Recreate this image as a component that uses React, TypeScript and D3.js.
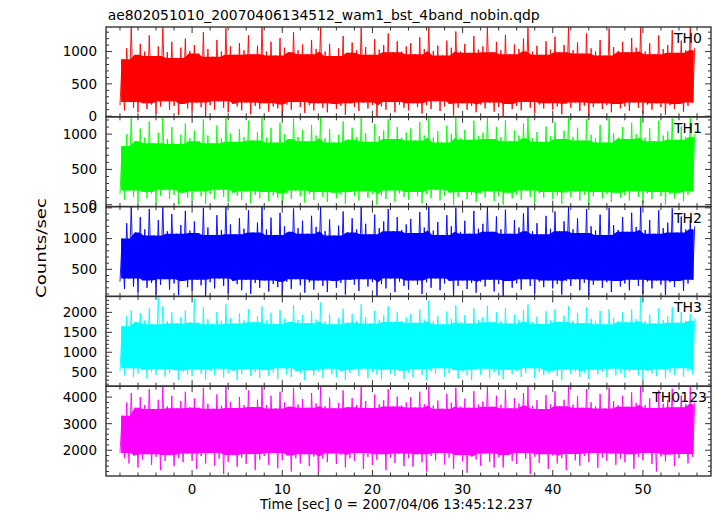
import React from 'react';
import * as d3 from 'd3';

const title = "ae802051010_20070406134512_wam1_bst_4band_nobin.qdp";
const xTitle = "Time [sec] 0 = 2007/04/06 13:45:12.237";
const yTitle = "Counts/sec";

const binStart = -8;
const binWidth = 0.5;

// TH0 : per half-second bin, highest and lowest rate (counts/sec)
const th0Hi = [
  880, 1050, 1380, 950, 1120, 1000, 1250, 930, 1080, 1370, 990, 1150, 900, 1060, 1200, 1010,
  1100, 970, 1300, 1040, 920, 1180, 1000, 1360, 1080, 950, 1130, 1020, 1250, 960, 1090, 1380,
  1000, 1150, 940, 1210, 1060, 990, 1300, 1020, 1110, 960, 1180, 1040, 1380, 1000, 1120, 930,
  1050, 1240, 980, 1140, 1020, 1370, 1070, 950, 1190, 1030, 1100, 1280, 990, 1160, 1000, 1080,
  1130, 960, 1220, 1040, 1380, 1010, 1090, 940, 1170, 1060, 1310, 1000, 1120, 980, 1240, 1030,
  1080, 1380, 990, 1150, 1020, 1260, 960, 1110, 1040, 1200, 1370, 1000, 1090, 950, 1160, 1030,
  1230, 990, 1100, 1380, 1020, 1140, 970, 1280, 1050, 1000, 1180, 940, 1360, 1070, 1010, 1150,
  990, 1210, 1060, 1380, 1000, 1130, 960, 1250, 1040, 1100, 1330, 980, 1170, 1020, 1380, 1060,
];
const th0Lo = [
  170, 90, 220, 130, 60, 200, 110, 180, 40, 150, 230, 100, 160, 20, 190, 120,
  80, 210, 140, 0, 170, 100, 230, 130, 60, 190, 150, 90, 210, 30, 160, 110,
  200, 70, 150, 120, 0, 180, 100, 220, 140, 50, 170, 90, 200, 130, 60, 190,
  110, 160, 20, 200, 140, 80, 210, 120, 170, 0, 150, 100, 220, 60, 180, 130,
  90, 200, 140, 40, 170, 110, 230, 80, 150, 190, 10, 130, 200, 100, 160, 60,
  180, 120, 210, 70, 140, 0, 190, 110, 160, 90, 220, 130, 50, 180, 120, 200,
  100, 150, 30, 190, 130, 210, 80, 160, 0, 140, 200, 110, 170, 60, 190, 120,
  150, 80, 210, 130, 40, 180, 100, 200, 140, 20, 170, 110, 190, 70, 160, 210,
];

// TH1
const th1Hi = [
  830, 1000, 1240, 900, 1080, 950, 1180, 870, 1020, 1230, 930, 1100, 860, 990, 1150, 940,
  1050, 900, 1210, 980, 870, 1120, 940, 1240, 1010, 890, 1070, 960, 1190, 910, 1030, 1240,
  950, 1090, 880, 1160, 1000, 930, 1220, 960, 1060, 900, 1130, 980, 1240, 940, 1070, 880,
  990, 1180, 920, 1090, 960, 1240, 1010, 890, 1140, 970, 1050, 1210, 930, 1100, 950, 1020,
  1080, 910, 1170, 980, 1240, 950, 1040, 880, 1120, 1000, 1230, 940, 1060, 920, 1190, 970,
  1020, 1240, 930, 1100, 960, 1200, 900, 1050, 980, 1150, 1240, 940, 1030, 890, 1110, 970,
  1170, 930, 1050, 1240, 960, 1090, 910, 1210, 990, 940, 1130, 880, 1240, 1010, 950, 1100,
  930, 1160, 1000, 1240, 950, 1080, 900, 1190, 980, 1040, 1220, 920, 1110, 960, 1240, 1000,
];
const th1Lo = [
  150, 70, 200, 110, 30, 180, 90, 160, 20, 130, 210, 80, 140, 0, 170, 100,
  60, 190, 120, 10, 150, 80, 210, 110, 40, 170, 130, 70, 190, 20, 140, 90,
  180, 50, 130, 100, 0, 160, 80, 200, 120, 30, 150, 70, 180, 110, 40, 170,
  90, 140, 10, 180, 120, 60, 190, 100, 150, 0, 130, 80, 200, 40, 160, 110,
  70, 180, 120, 20, 150, 90, 210, 60, 130, 170, 0, 110, 180, 80, 140, 40,
  160, 100, 190, 50, 120, 0, 170, 90, 140, 70, 200, 110, 30, 160, 100, 180,
  80, 130, 10, 170, 110, 190, 60, 140, 0, 120, 180, 90, 150, 40, 170, 100,
  130, 60, 190, 110, 20, 160, 80, 180, 120, 0, 150, 90, 170, 50, 140, 190,
];

// TH2
const th2Hi = [
  1000, 1250, 1520, 1100, 1350, 1150, 1480, 1050, 1300, 1510, 1120, 1400, 1080, 1220, 1450, 1130,
  1280, 1090, 1500, 1180, 1060, 1380, 1140, 1520, 1230, 1070, 1330, 1160, 1460, 1100, 1260, 1520,
  1150, 1340, 1060, 1420, 1200, 1110, 1490, 1170, 1290, 1080, 1370, 1190, 1520, 1120, 1310, 1050,
  1210, 1440, 1100, 1330, 1150, 1520, 1240, 1070, 1390, 1170, 1280, 1480, 1120, 1350, 1140, 1230,
  1320, 1090, 1430, 1180, 1520, 1130, 1270, 1060, 1380, 1200, 1500, 1110, 1290, 1080, 1450, 1160,
  1240, 1520, 1110, 1360, 1150, 1470, 1080, 1300, 1180, 1410, 1510, 1120, 1250, 1070, 1370, 1160,
  1440, 1120, 1280, 1520, 1150, 1330, 1090, 1480, 1200, 1130, 1390, 1060, 1500, 1220, 1140, 1350,
  1110, 1420, 1190, 1520, 1140, 1300, 1080, 1460, 1170, 1260, 1490, 1100, 1360, 1150, 1310, 1200,
];
const th2Lo = [
  300, 180, 350, 220, 120, 320, 200, 280, 90, 250, 340, 170, 270, 80, 310, 210,
  150, 330, 240, 70, 290, 190, 350, 230, 110, 310, 260, 160, 330, 100, 280, 200,
  320, 140, 260, 210, 60, 300, 180, 340, 240, 120, 290, 170, 320, 230, 130, 310,
  200, 280, 90, 330, 250, 150, 340, 220, 290, 70, 260, 190, 350, 130, 300, 230,
  170, 320, 250, 100, 290, 200, 350, 160, 270, 310, 60, 230, 320, 180, 280, 120,
  300, 220, 330, 140, 260, 60, 310, 200, 270, 170, 340, 230, 110, 300, 210, 320,
  190, 260, 90, 310, 230, 340, 160, 280, 70, 250, 320, 200, 290, 130, 310, 220,
  270, 160, 330, 230, 100, 300, 190, 320, 250, 80, 290, 210, 310, 150, 270, 330,
];

// TH3
const th3Hi = [
  1650, 1900, 2050, 1750, 1980, 1800, 2100, 1700, 2400, 2150, 1780, 2000, 1720, 1880, 2050, 1760,
  2350, 1740, 2120, 1830, 1700, 2010, 1790, 2200, 1860, 1720, 1970, 1800, 2080, 1750, 1900, 2150,
  1800, 1990, 1710, 2060, 1840, 1760, 2180, 1810, 1930, 1730, 2030, 1820, 2250, 1770, 1950, 1700,
  1850, 2090, 1740, 1960, 1790, 2200, 1880, 1720, 2040, 1810, 1920, 2150, 1760, 2000, 1780, 1870,
  1960, 1740, 2070, 1820, 2300, 1770, 1910, 1700, 2020, 1840, 2180, 1750, 1930, 1720, 2100, 1800,
  1880, 2160, 1750, 2000, 1790, 2110, 1720, 1940, 1820, 2060, 2200, 1760, 1890, 1710, 2030, 1800,
  2080, 1760, 1920, 2150, 1790, 1980, 1730, 2120, 1840, 1770, 2040, 1700, 2080, 1860, 1780, 2000,
  1750, 2070, 1830, 2400, 1780, 1950, 1720, 2100, 1810, 1900, 2130, 1740, 2010, 1790, 1960, 1850,
];
const th3Lo = [
  520, 420, 600, 380, 470, 560, 340, 500, 430, 580, 390, 480, 550, 310, 510, 440,
  400, 570, 460, 320, 530, 420, 590, 370, 480, 540, 300, 450, 580, 400, 500, 360,
  560, 410, 490, 330, 600, 440, 380, 520, 470, 300, 550, 420, 510, 360, 590, 450,
  380, 530, 300, 480, 560, 410, 590, 350, 500, 440, 320, 570, 460, 400, 540, 330,
  490, 370, 580, 430, 310, 520, 460, 600, 390, 470, 550, 340, 510, 420, 300, 560,
  440, 590, 360, 500, 420, 320, 560, 450, 530, 380, 480, 600, 350, 510, 430, 470,
  540, 400, 300, 570, 460, 520, 380, 490, 330, 560, 440, 510, 370, 590, 420, 480,
  360, 500, 560, 420, 310, 540, 470, 400, 580, 350, 490, 430, 600, 380, 520, 450,
];

// TH0123
const th4Hi = [
  3300, 3800, 4150, 3600, 4000, 3700, 4300, 3550, 3900, 4400, 3650, 4050, 3580, 3850, 4200, 3620,
  3950, 3600, 4350, 3750, 3560, 4100, 3680, 4400, 3820, 3590, 4000, 3700, 4250, 3630, 3900, 4380,
  3700, 4050, 3570, 4200, 3800, 3640, 4350, 3720, 3920, 3600, 4150, 3760, 4400, 3660, 3980, 3580,
  3780, 4250, 3620, 3960, 3700, 4400, 3850, 3590, 4100, 3730, 3880, 4300, 3650, 4020, 3680, 3800,
  4000, 3610, 4200, 3740, 4400, 3680, 3870, 3560, 4120, 3790, 4350, 3640, 3940, 3600, 4220, 3720,
  3830, 4400, 3640, 4050, 3710, 4280, 3580, 3960, 3760, 4150, 4380, 3670, 3890, 3550, 4080, 3730,
  4220, 3660, 3900, 4400, 3720, 4030, 3600, 4300, 3810, 3650, 4120, 3570, 4360, 3840, 3690, 4050,
  3640, 4180, 3780, 4400, 3700, 3950, 3590, 4260, 3750, 3880, 4320, 3620, 4060, 3730, 4400, 3800,
];
const th4Lo = [
  1900, 1700, 1500, 1800, 1350, 1650, 1850, 1450, 1750, 1250, 1600, 1820, 1400, 1700, 1550, 1880,
  1600, 1300, 1780, 1500, 1900, 1420, 1680, 1100, 1560, 1820, 1380, 1720, 1480, 1860, 1250, 1650,
  1780, 1450, 1900, 1320, 1620, 1800, 1200, 1700, 1500, 1850, 1400, 1760, 1150, 1680, 1550, 1880,
  1480, 1820, 1350, 1700, 1600, 1900, 1300, 1750, 1450, 1640, 1850, 1250, 1720, 1520, 1880, 1400,
  1700, 1380, 1850, 1550, 1200, 1780, 1620, 1900, 1460, 1720, 1300, 1820, 1580, 1150, 1760, 1650,
  1420, 1880, 1560, 1350, 1740, 1350, 1820, 1600, 1480, 1900, 1680, 1100, 1760, 1520, 1850, 1300,
  1800, 1500, 1700, 1250, 1860, 1620, 1420, 1780, 1560, 1900, 1340, 1720, 1600, 1880, 1450, 1680,
  1550, 1850, 1300, 1740, 1620, 1900, 1480, 1200, 1760, 1580, 1840, 1400, 1700, 1860, 1500, 1750,
];

const panelNames = ["TH0", "TH1", "TH2", "TH3", "TH0123"];
const panelColors = ["#ff0000", "#00ff00", "#0000ff", "#00ffff", "#ff00ff"];
const panelDomains: [number, number][] = [[-10, 1380], [-27, 1245], [60, 1520], [150, 2400], [1030, 4410]];
const panelMajorTicks = [[0, 500, 1000], [0, 500, 1000], [500, 1000, 1500], [500, 1000, 1500, 2000], [2000, 3000, 4000]];
const panelMinorStep = [100, 100, 100, 100, 200];
const xTickLabels = [0, 10, 20, 30, 40, 50];
const xMinorStep = 2;

const seriesHi = [th0Hi, th1Hi, th2Hi, th3Hi, th4Hi];
const seriesLo = [th0Lo, th1Lo, th2Lo, th3Lo, th4Lo];

const W = 717, H = 516;
const X_LEFT = 106, X_RIGHT = 711, TOP = 27, BOTTOM = 476;
const FRAME = "#333333";
const FONT = "DejaVu Sans";
const CORE_HALF = 2;

export default function App() {
  const n = panelNames.length;
  const ph = (BOTTOM - TOP) / n;
  const x = d3.scaleLinear().domain([-9.55, 57.55]).range([X_LEFT, X_RIGHT]);
  const xTicks = d3.range(-8, 57, xMinorStep);

  return (
    <svg width={W} height={H} style={{ position: 'absolute', left: 0, top: 0 }} fontFamily={FONT}>
      <rect x={0} y={0} width={W} height={H} fill="#ffffff" />
      <defs>
        {panelNames.map((_, k) => (
          <clipPath id={`clip${k}`} key={k}>
            <rect x={X_LEFT} y={TOP + k * ph} width={X_RIGHT - X_LEFT} height={ph} />
          </clipPath>
        ))}
      </defs>
      {panelNames.map((name, k) => {
        const y0 = TOP + k * ph;
        const y1 = y0 + ph;
        const y = d3.scaleLinear().domain(panelDomains[k]).range([y1, y0]);
        const hi = seriesHi[k];
        const lo = seriesLo[k];
        const pts: [number, number][] = [];
        hi.forEach((h, i) => {
          const t = binStart + i * binWidth;
          pts.push([t, lo[i]]);
          pts.push([t + binWidth / 2, h]);
        });
        const line = d3.line<[number, number]>().x(d => x(d[0])).y(d => y(d[1]));
        const core = hi.map((_, i) => {
          const a = Math.max(0, i - CORE_HALF), b = Math.min(hi.length - 1, i + CORE_HALF);
          return {
            t: binStart + i * binWidth + binWidth / 4,
            lo: d3.max(lo.slice(a, b + 1)) as number,
            hi: d3.min(hi.slice(a, b + 1)) as number,
          };
        });
        const area = d3.area<{ t: number; lo: number; hi: number }>()
          .x(d => x(d.t)).y0(d => y(d.lo)).y1(d => y(d.hi));
        const [d0, d1] = panelDomains[k];
        const step = panelMinorStep[k];
        const minor = d3.range(Math.ceil(d0 / step) * step, d1 + 0.001, step);
        const majors = panelMajorTicks[k];
        return (
          <g key={name}>
            <g clipPath={`url(#clip${k})`}>
              <path d={area(core) || ''} fill={panelColors[k]} />
              <path d={line(pts) || ''} fill="none" stroke={panelColors[k]} strokeWidth={1} strokeOpacity={0.9} />
            </g>
            {minor.map(v => {
              const isMajor = majors.includes(v);
              const len = isMajor ? 6 : 3;
              return (
                <g key={`y${v}`} stroke={FRAME} strokeWidth={1}>
                  <line x1={X_LEFT} x2={X_LEFT + len} y1={y(v)} y2={y(v)} />
                  <line x1={X_RIGHT} x2={X_RIGHT - len} y1={y(v)} y2={y(v)} />
                </g>
              );
            })}
            {xTicks.map(t => {
              const len = t % 10 === 0 ? 6 : 3.5;
              return (
                <g key={`x${t}`} stroke={FRAME} strokeWidth={1}>
                  <line x1={x(t)} x2={x(t)} y1={y0} y2={y0 + len} />
                  <line x1={x(t)} x2={x(t)} y1={y1} y2={y1 - len} />
                </g>
              );
            })}
            <rect x={X_LEFT} y={y0} width={X_RIGHT - X_LEFT} height={ph} fill="none" stroke={FRAME} strokeWidth={1.4} />
            {majors.map(v => (
              <text key={`l${v}`} x={97} y={y(v)} dy="0.36em" textAnchor="end" fontSize={13.5} fill="#000">{v}</text>
            ))}
            <text x={k === n - 1 ? 707 : 702} y={y0 + 16} textAnchor="end" fontSize={14} fill="#000">{name}</text>
          </g>
        );
      })}
      {xTickLabels.map(t => (
        <text key={`xt${t}`} x={x(t)} y={493.5} textAnchor="middle" fontSize={13.5} fill="#000">{t}</text>
      ))}
      <text x={107.7} y={19.5} fontSize={13.5} fill="#000" textLength={432} lengthAdjust="spacingAndGlyphs">{title}</text>
      <text x={260} y={508.5} fontSize={13.5} fill="#000" textLength={273} lengthAdjust="spacingAndGlyphs">{xTitle}</text>
      <text transform={`translate(46,298) rotate(-90)`} fontSize={14} fill="#000" textLength={100} lengthAdjust="spacingAndGlyphs">{yTitle}</text>
    </svg>
  );
}
